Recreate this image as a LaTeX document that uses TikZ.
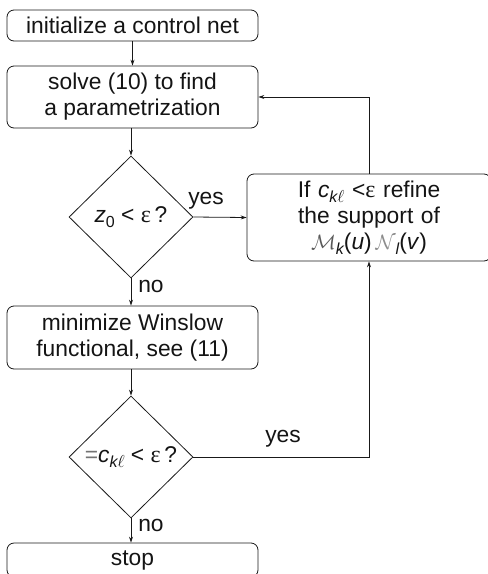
\documentclass[tikz,border=0pt]{standalone}
\usepackage{fontspec}
\setmainfont{Liberation Sans}
\newfontfamily\epsfont{Liberation Serif}
\usetikzlibrary{shapes.geometric,arrows.meta}
% small helpers for the formula pieces
\newcommand\epsi{{\epsfont\fontsize{24}{26}\selectfont ε}}
\newcommand\subsc[1]{\raisebox{-5pt}{\fontsize{16}{16}\selectfont #1}}
\begin{document}
\begin{tikzpicture}[x=1pt,y=-1pt,
  every node/.style={font=\fontsize{22.8}{26}\selectfont, text=black!92},
  box/.style={draw=black!90, line width=0.8pt, rounded corners=7pt,
    minimum width=251pt, inner sep=0pt, align=center},
  decision/.style={draw=black!90, line width=0.8pt, diamond, aspect=1,
    minimum width=124pt, minimum height=122pt, inner sep=0pt},
  flow/.style={draw=black!90, line width=0.8pt,
    -{Stealth[length=6pt,width=4pt]}},
  lbl/.style={inner sep=0pt}]
\useasboundingbox (0,0) rectangle (488,574);
\clip (0,0) rectangle (488,574);

% main column
\node[box, minimum height=31pt] (init) at (132.5,25.5) {initialize a control net};
\node[box, minimum height=62pt] (solve) at (132.5,97) {solve (10) to find\\a parametrization};
\node[decision] (d1) at (131,217) {};
\node (q1) at (d1.center) {\textit{z}\subsc{0} < \epsi\,?};
\node[box, minimum height=63pt] (mini) at (132.5,337.5) {minimize Winslow\\functional, see (11)};
\node[decision] (d2) at (131,457) {};
\node (q2) at (d2.center) {{\color{black!55}=}\textit{c}\subsc{\itshape k$\ell$} < \epsi\,?};
\node[box, minimum height=34pt] (stop) at (132.5,560) {stop};

% refinement step on the right
\node[box, minimum width=244pt, minimum height=87pt, text width=240pt] (refine) at (369,217.5)
  {If \textit{c}\subsc{\itshape k$\ell$} <\epsi{} refine\\the support of\\
   {\color{black!65}$\mathcal{M}$}\subsc{\itshape k}(\textit{u})\,{\color{black!45}$\mathcal{N}$}\subsc{\itshape l}(\textit{v})};

% connectors
\draw[flow] (init.south) -- (solve.north);
\draw[flow] (d1.north |- solve.south) -- (d1.north);
\draw[flow] (d1.east) -- (refine.west);
\draw[flow] (d1.south) -- (d1.south |- mini.north);
\draw[flow] (d2.north |- mini.south) -- (d2.north);
\draw[flow] (d2.south) -- (d2.south |- stop.north);
\draw[flow] (refine.north) |- (solve.east);
\draw[flow] (d2.east) -| (refine.south);

% branch labels
\node[lbl] (yes1) at (206,201) {yes};
\node[lbl] (no1) at (151,286) {no};
\node[lbl] (yes2) at (283,439) {yes};
\node[lbl] (no2) at (151,525) {no};
\end{tikzpicture}
\end{document}
